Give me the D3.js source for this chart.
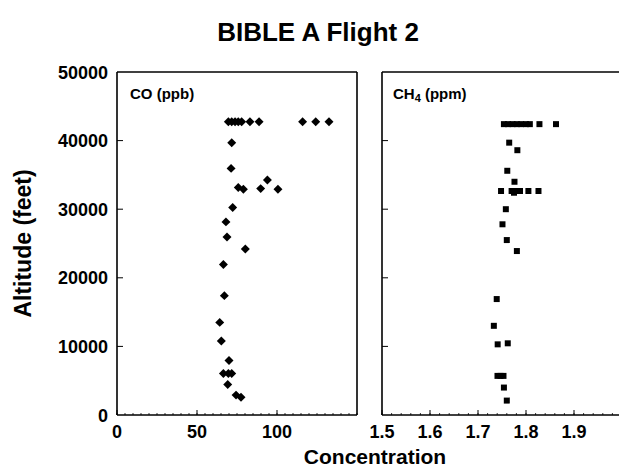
<!DOCTYPE html>
<html>
<head>
<meta charset="utf-8">
<script src="https://cdn.jsdelivr.net/npm/d3@7"></script>
<style>
  html, body { margin: 0; padding: 0; background: #fff; }
  svg { display: block; font-family: "Liberation Sans", Arial, Helvetica, sans-serif; }
</style>
</head>
<body>
<svg id="chart" width="619" height="470"></svg>
<script>
// ---- Data ----
const title = "BIBLE A Flight 2";
const yTicks = [0, 10000, 20000, 30000, 40000, 50000];
const coTicks = [0, 50, 100];
const ch4Ticks = [1.5, 1.6, 1.7, 1.8, 1.9];

// CO (ppb) profile: concentration and altitude (feet)
const coValues = [
  69.6, 71.7, 73.8, 75.8, 77.9, 83.1, 88.8, 116, 124.2, 132.5,
  71.7, 71.3, 94, 75.8, 79, 89.8, 100.6, 72.3, 68.1, 68.75, 80.2,
  66.5, 67.1, 64.2, 65.2, 70, 66.5, 69.6, 71.7, 69.2, 74.4, 77.5
];
const coAltitudes = [
  42750, 42750, 42750, 42750, 42750, 42750, 42750, 42750, 42750, 42750,
  39700, 35950, 34250, 33150, 32900, 33000, 32900, 30250, 28150, 25950, 24200,
  21950, 17400, 13500, 10800, 7950, 6050, 6050, 6050, 4450, 2900, 2600
];

// CH4 (ppm) profile
const ch4Values = [
  1.754, 1.7625, 1.772, 1.781, 1.790, 1.800, 1.808, 1.828, 1.8625,
  1.765, 1.782, 1.761, 1.776,
  1.748, 1.770, 1.775, 1.781, 1.7875, 1.805, 1.826,
  1.758, 1.751, 1.760, 1.781,
  1.739, 1.733, 1.741, 1.762, 1.7406, 1.7469, 1.7531, 1.754, 1.760
];
const ch4Altitudes = [
  42400, 42400, 42400, 42400, 42400, 42400, 42400, 42400, 42400,
  39700, 38600, 35600, 34000,
  32650, 32650, 32400, 32650, 32650, 32650, 32650,
  30000, 27800, 25500, 23900,
  16900, 13000, 10300, 10450, 5700, 5700, 5700, 4000, 2100
];

// ---- Layout ----
const svg = d3.select("#chart");
const plotTop = 72, plotBottom = 415;
const y = d3.scaleLinear().domain([0, 50000]).range([plotBottom, plotTop]);
const xCO = d3.scaleLinear().domain([0, 150]).range([117, 357]);
const xCH4 = d3.scaleLinear().domain([1.5, 2.0]).range([382, 622]);

// Title
svg.append("text")
  .attr("x", 318).attr("y", 41)
  .attr("text-anchor", "middle")
  .attr("font-size", 26).attr("font-weight", "bold")
  .text(title);

function panel(xs, ticks, fmt, minorStep, drawRight) {
  const x0 = xs.range()[0], x1 = xs.range()[1];
  const g = svg.append("g");
  g.append("line").attr("x1", x0).attr("x2", x0).attr("y1", plotTop).attr("y2", plotBottom)
    .attr("stroke", "#000").attr("stroke-width", 1.6);
  g.append("line").attr("x1", x0).attr("x2", x1).attr("y1", plotTop).attr("y2", plotTop)
    .attr("stroke", "#000").attr("stroke-width", 1.6);
  g.append("line").attr("x1", x0).attr("x2", x1).attr("y1", plotBottom).attr("y2", plotBottom)
    .attr("stroke", "#000").attr("stroke-width", 1.6);
  if (drawRight) {
    g.append("line").attr("x1", x1).attr("x2", x1).attr("y1", plotTop).attr("y2", plotBottom)
      .attr("stroke", "#000").attr("stroke-width", 1.6);
  }
  g.selectAll(".yt").data(yTicks.slice(1, -1)).enter().append("line")
    .attr("x1", x0).attr("x2", x0 + 6)
    .attr("y1", d => y(d)).attr("y2", d => y(d))
    .attr("stroke", "#000").attr("stroke-width", 1);
  const d0 = xs.domain()[0], d1 = xs.domain()[1];
  const minor = d3.range(d0, d1 + 1e-9, minorStep);
  g.selectAll(".mxt").data(minor).enter().append("line")
    .attr("x1", d => xs(d)).attr("x2", d => xs(d))
    .attr("y1", plotBottom).attr("y2", plotBottom - 2)
    .attr("stroke", "#000").attr("stroke-width", 0.8);
  g.selectAll(".xt").data(ticks).enter().append("line")
    .attr("x1", d => xs(d)).attr("x2", d => xs(d))
    .attr("y1", plotBottom).attr("y2", plotBottom - 5)
    .attr("stroke", "#000").attr("stroke-width", 1);
  g.selectAll(".xl").data(ticks).enter().append("text")
    .attr("x", d => xs(d)).attr("y", 438)
    .attr("text-anchor", "middle")
    .attr("font-size", 18).attr("font-weight", "bold")
    .text(fmt);
  return g;
}

panel(xCO, coTicks, d => d3.format("d")(d), 5, true);
panel(xCH4, ch4Ticks, d => d3.format(".1f")(d), 0.02, false);

// y tick labels
svg.selectAll(".yl").data(yTicks).enter().append("text")
  .attr("x", 108).attr("y", d => y(d) + 6.5)
  .attr("text-anchor", "end")
  .attr("font-size", 18).attr("font-weight", "bold")
  .text(d => d3.format("d")(d));

// panel labels
svg.append("text").attr("x", 130).attr("y", 99)
  .attr("font-size", 15).attr("font-weight", "bold")
  .text("CO (ppb)");
const ch4Label = svg.append("text").attr("x", 393).attr("y", 99)
  .attr("font-size", 15).attr("font-weight", "bold");
ch4Label.append("tspan").text("CH");
ch4Label.append("tspan").attr("font-size", 11).attr("dy", 3).text("4");
ch4Label.append("tspan").attr("dy", -3).text(" (ppm)");

// axis titles
svg.append("text")
  .attr("transform", `translate(31, ${(plotTop + plotBottom) / 2}) rotate(-90)`)
  .attr("text-anchor", "middle")
  .attr("font-size", 23).attr("font-weight", "bold")
  .text("Altitude (feet)");
svg.append("text")
  .attr("x", 375).attr("y", 464)
  .attr("text-anchor", "middle")
  .attr("font-size", 21).attr("font-weight", "bold")
  .text("Concentration");

// CO diamonds
const coData = coValues.map((v, i) => ({ v, a: coAltitudes[i] }));
svg.append("g").selectAll("path").data(coData).enter().append("path")
  .attr("d", d3.symbol().type(d3.symbolSquare).size(40))
  .attr("transform", d => `translate(${xCO(d.v)},${y(d.a)}) rotate(45)`)
  .attr("fill", "#000");

// CH4 squares
const ch4Data = ch4Values.map((v, i) => ({ v, a: ch4Altitudes[i] }));
svg.append("g").selectAll("path").data(ch4Data).enter().append("path")
  .attr("d", d3.symbol().type(d3.symbolSquare).size(36))
  .attr("transform", d => `translate(${xCH4(d.v)},${y(d.a)})`)
  .attr("fill", "#000");
</script>
</body>
</html>
